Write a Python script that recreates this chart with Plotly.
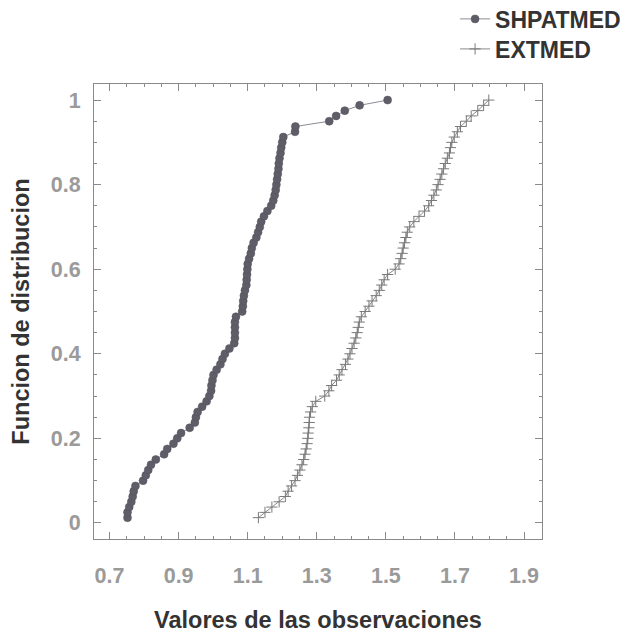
import plotly.graph_objects as go

cum_frac = [0.0125, 0.025, 0.0375, 0.05, 0.0625, 0.075, 0.0875, 0.1, 0.1125, 0.125,
            0.1375, 0.15, 0.1625, 0.175, 0.1875, 0.2, 0.2125, 0.225, 0.2375, 0.25,
            0.2625, 0.275, 0.2875, 0.3, 0.3125, 0.325, 0.3375, 0.35, 0.3625, 0.375,
            0.3875, 0.4, 0.4125, 0.425, 0.4375, 0.45, 0.4625, 0.475, 0.4875, 0.5,
            0.5125, 0.525, 0.5375, 0.55, 0.5625, 0.575, 0.5875, 0.6, 0.6125, 0.625,
            0.6375, 0.65, 0.6625, 0.675, 0.6875, 0.7, 0.7125, 0.725, 0.7375, 0.75,
            0.7625, 0.775, 0.7875, 0.8, 0.8125, 0.825, 0.8375, 0.85, 0.8625, 0.875,
            0.8875, 0.9, 0.9125, 0.925, 0.9375, 0.95, 0.9625, 0.975, 0.9875, 1.0]

shpatmed = [0.752, 0.752, 0.757, 0.763, 0.767, 0.770, 0.775, 0.797, 0.805, 0.812,
            0.820, 0.834, 0.858, 0.867, 0.885, 0.896, 0.907, 0.932, 0.947, 0.950,
            0.955, 0.968, 0.981, 0.989, 0.994, 0.995, 0.998, 1.001, 1.010, 1.021,
            1.027, 1.034, 1.047, 1.061, 1.063, 1.063, 1.063, 1.063, 1.066, 1.084,
            1.086, 1.087, 1.089, 1.092, 1.096, 1.097, 1.098, 1.099, 1.100, 1.104,
            1.109, 1.112, 1.117, 1.125, 1.130, 1.135, 1.139, 1.147, 1.157, 1.168,
            1.174, 1.178, 1.181, 1.183, 1.185, 1.187, 1.189, 1.190, 1.192, 1.195,
            1.197, 1.200, 1.203, 1.237, 1.238, 1.336, 1.356, 1.381, 1.424, 1.505]

extmed = [1.131, 1.150, 1.170, 1.191, 1.209, 1.217, 1.227, 1.237, 1.244, 1.251,
          1.257, 1.262, 1.266, 1.269, 1.272, 1.274, 1.275, 1.277, 1.278, 1.279,
          1.282, 1.287, 1.297, 1.323, 1.335, 1.343, 1.357, 1.365, 1.373, 1.383,
          1.390, 1.396, 1.402, 1.408, 1.413, 1.417, 1.420, 1.423, 1.429, 1.440,
          1.451, 1.460, 1.472, 1.481, 1.488, 1.495, 1.505, 1.527, 1.538, 1.543,
          1.547, 1.550, 1.554, 1.558, 1.562, 1.569, 1.581, 1.596, 1.612, 1.624,
          1.632, 1.639, 1.646, 1.651, 1.657, 1.662, 1.667, 1.672, 1.678, 1.684,
          1.687, 1.691, 1.698, 1.707, 1.716, 1.733, 1.747, 1.766, 1.783, 1.798]

series_names = ["SHPATMED", "EXTMED"]
x_tick_vals = [0.7, 0.9, 1.1, 1.3, 1.5, 1.7, 1.9]
x_tick_text = ["0.7", "0.9", "1.1", "1.3", "1.5", "1.7", "1.9"]
y_tick_vals = [0, 0.2, 0.4, 0.6, 0.8, 1.0]
y_tick_text = ["0", "0.2", "0.4", "0.6", "0.8", "1"]

FONT = "Liberation Sans, Arial, sans-serif"
AX = "#8a8a8a"

fig = go.Figure()
fig.add_trace(go.Scatter(
    x=shpatmed, y=cum_frac, name=series_names[0], mode="lines+markers",
    line=dict(color="#8c8c94", width=1),
    marker=dict(symbol="circle", size=8, color="#5f5e68",
                line=dict(color="#55545e", width=0.5)),
    legend="legend",
))
fig.add_trace(go.Scatter(
    x=extmed, y=cum_frac, name=series_names[1], mode="lines+markers",
    line=dict(color="#8a8a8a", width=1),
    marker=dict(symbol="cross-thin", size=8, color="#7a7a7a",
                line=dict(color="#7a7a7a", width=1)),
    legend="legend2",
))

axis_common = dict(
    showgrid=False, zeroline=False, showline=True, linecolor=AX, linewidth=1,
    mirror="allticks", ticks="inside", ticklen=7, tickwidth=1, tickcolor=AX,
    tickfont=dict(family=FONT, size=21.5, color="#9a9a9a", weight="bold"),
    title_font=dict(family=FONT, size=23.5, color="#333333", weight="bold"),
    automargin=False,
)

fig.update_xaxes(
    **axis_common, range=[0.655, 1.952],
    tickvals=x_tick_vals, ticktext=x_tick_text,
    minor=dict(dtick=0.05, tick0=0.7, ticks="inside", ticklen=3, tickcolor=AX, showgrid=False),
    ticklabelstandoff=17,
    title=dict(text="Valores de las observaciones", standoff=24),
)
fig.update_yaxes(
    **axis_common, range=[-0.038, 1.038],
    tickvals=y_tick_vals, ticktext=y_tick_text,
    minor=dict(dtick=0.05, tick0=0, ticks="inside", ticklen=3, tickcolor=AX, showgrid=False),
    ticklabelstandoff=8,
    title=dict(text="Funcion de distribucion", standoff=14),
)

legend_style = dict(
    xanchor="left", yanchor="middle",
    font=dict(family=FONT, size=23, color="#333333", weight="bold"),
    bgcolor="rgba(0,0,0,0)", itemwidth=30,
)

fig.update_layout(
    width=635, height=636,
    margin=dict(l=86, r=101, t=76, b=105, autoexpand=False),
    paper_bgcolor="white", plot_bgcolor="white",
    showlegend=True,
    legend=dict(x=0.806, y=1.143, **legend_style),
    legend2=dict(x=0.806, y=1.077, **legend_style),
)

fig.write_html("out.html")
